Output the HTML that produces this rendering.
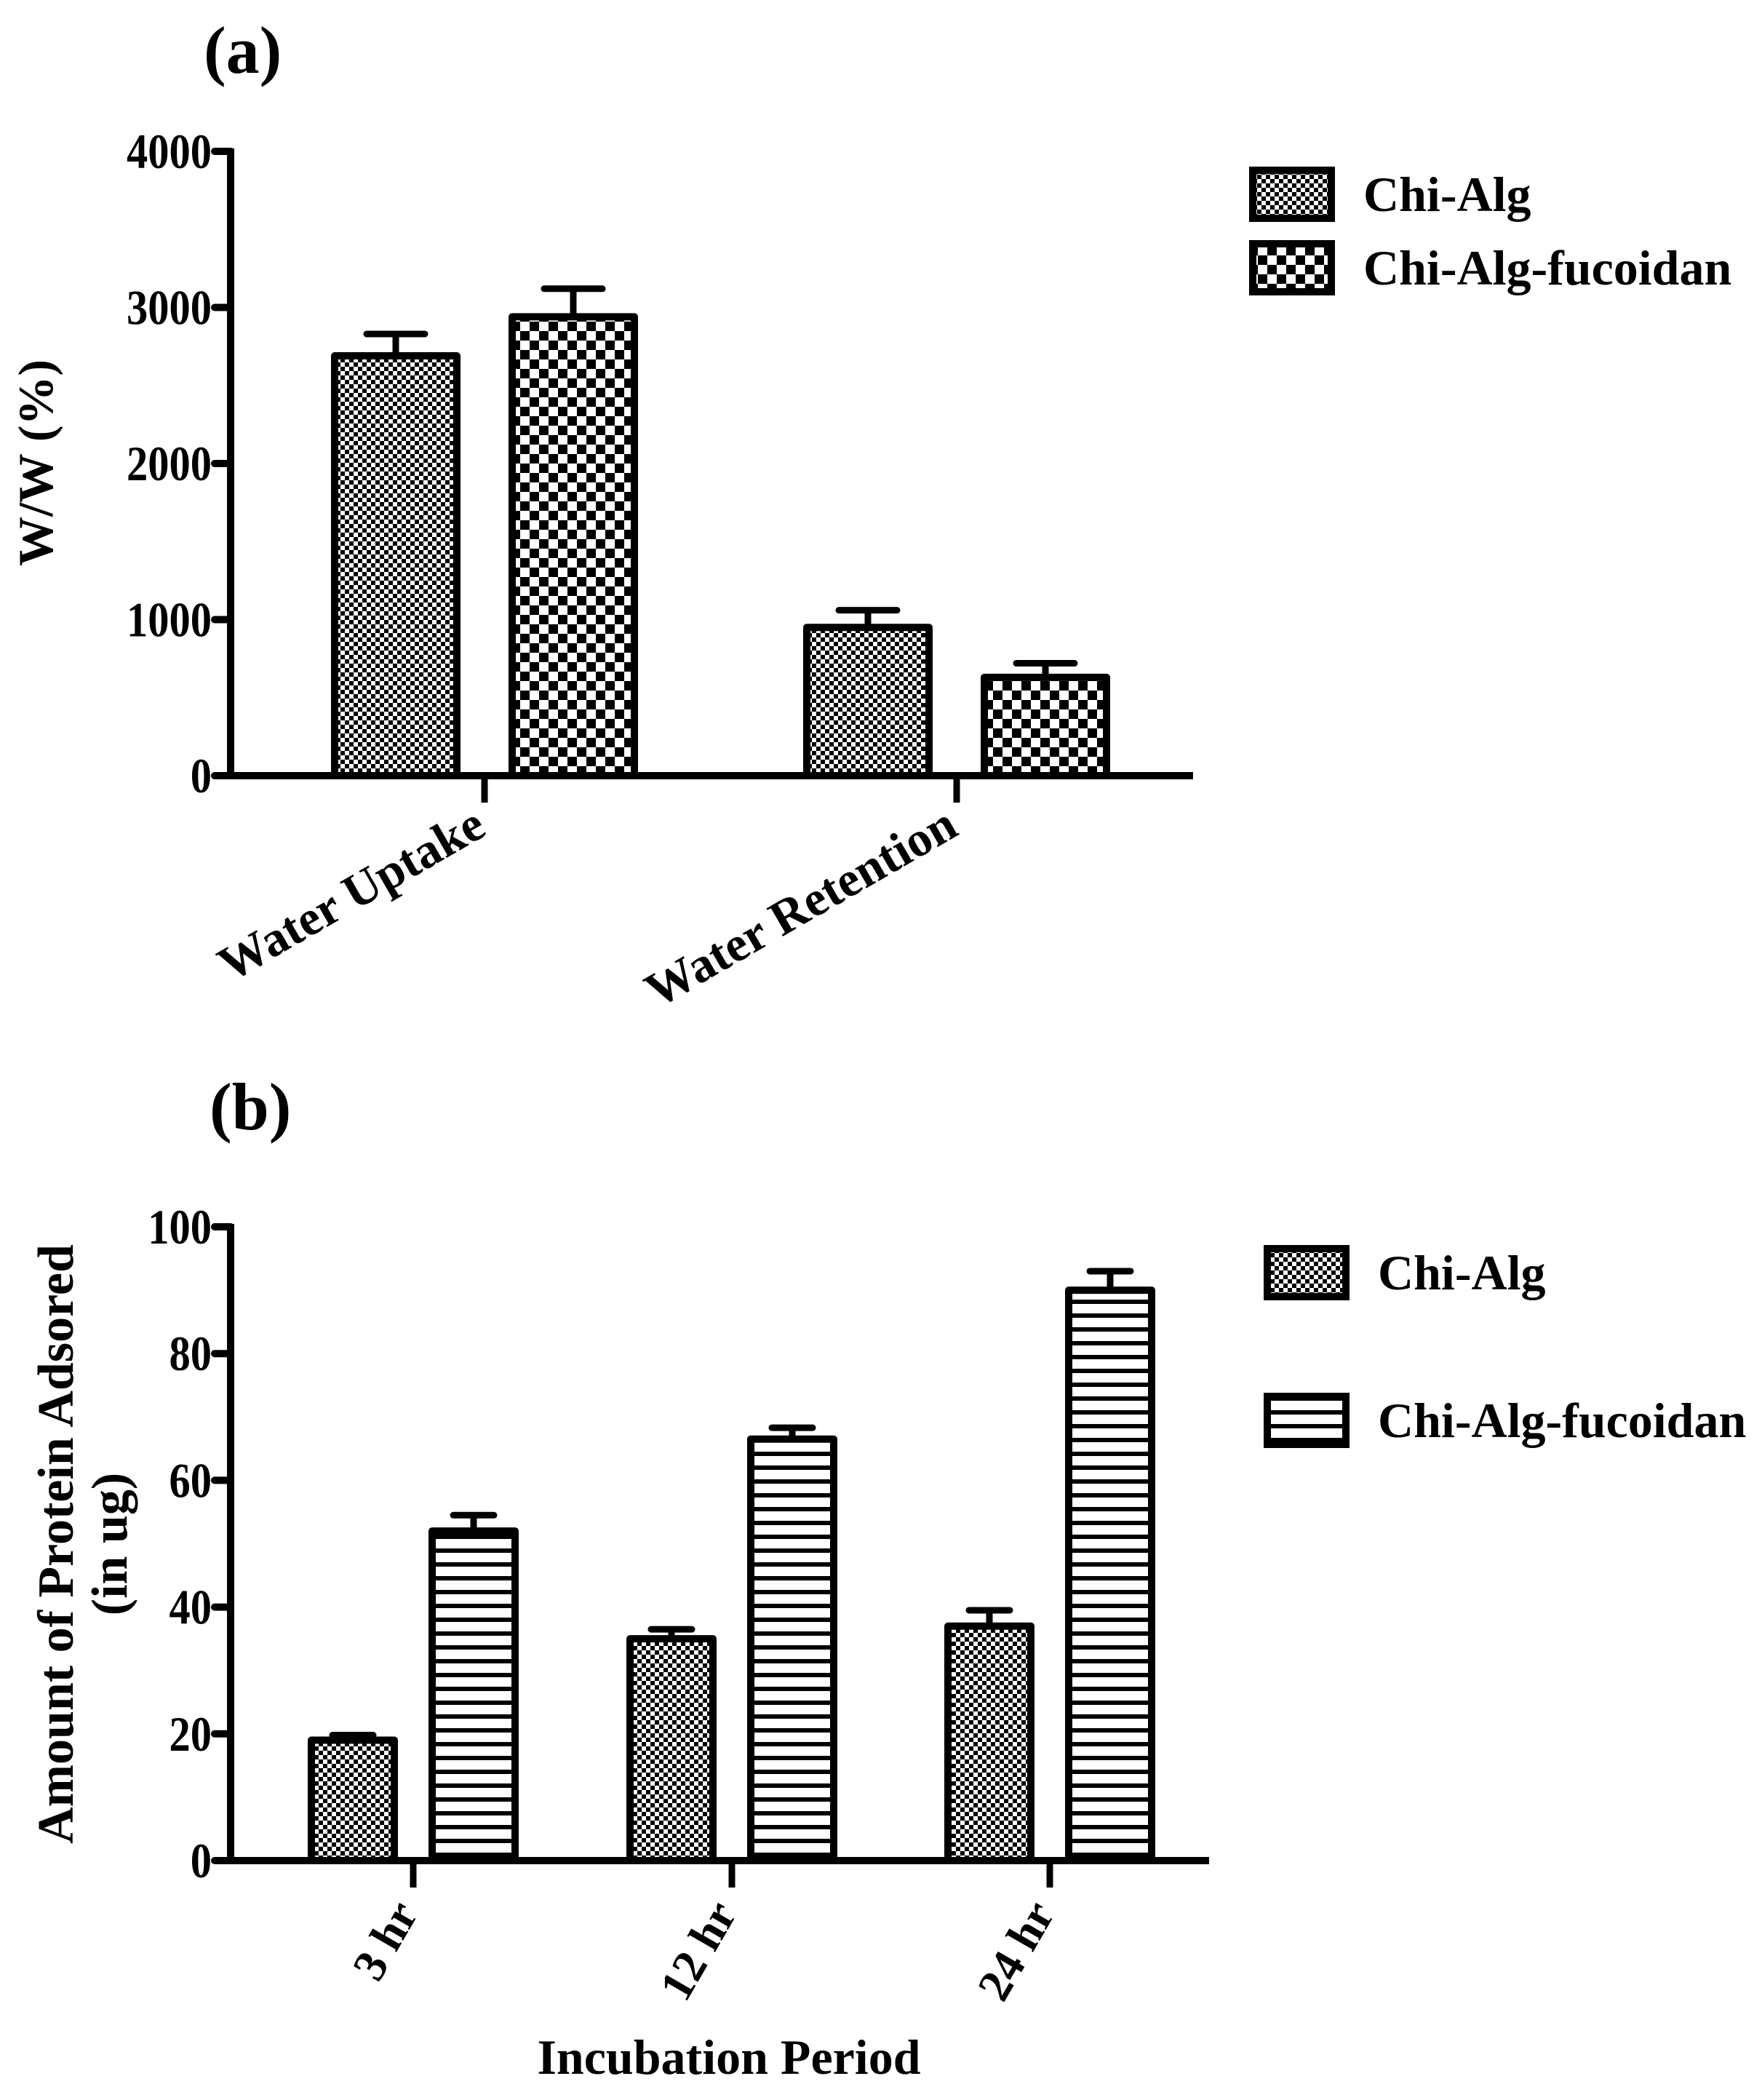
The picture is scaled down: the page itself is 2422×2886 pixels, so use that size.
<!DOCTYPE html>
<html><head><meta charset="utf-8"><style>
html,body{margin:0;padding:0;background:#fff;}
svg{display:block;}
text{font-family:"Liberation Serif",serif;font-weight:bold;fill:#000;}
</style></head><body>
<svg id="fig" width="2422" height="2886" viewBox="0 0 2422 2886" xmlns="http://www.w3.org/2000/svg">
<defs>
<pattern id="pFine" width="12" height="12" patternUnits="userSpaceOnUse"><rect width="12" height="12" fill="#fff"/><rect width="6" height="6" fill="#000"/><rect x="6" y="6" width="6" height="6" fill="#000"/></pattern>
<pattern id="pCoarse" width="26" height="26" patternUnits="userSpaceOnUse"><rect width="26" height="26" fill="#fff"/><rect width="13" height="13" fill="#000"/><rect x="13" y="13" width="13" height="13" fill="#000"/></pattern>
<pattern id="pStripe" width="20" height="19" patternUnits="userSpaceOnUse"><rect width="20" height="19" fill="#fff"/><rect y="0" width="20" height="6" fill="#000"/></pattern>
</defs>
<g id="chartA"></g>
<g id="chartB"></g>
</svg>
<script>
const aCategories = ["Water Uptake", "Water Retention"];
const aChiAlg = [2690, 950];
const aChiAlgErr = [140, 110];
const aFucoidan = [2940, 630];
const aFucoidanErr = [180, 90];
const aTicks = [0, 1000, 2000, 3000, 4000];

const bCategories = ["3 hr", "12 hr", "24 hr"];
const bChiAlg = [19, 35, 37];
const bChiAlgErr = [0.8, 1.5, 2.5];
const bFucoidan = [52, 66.5, 90];
const bFucoidanErr = [2.5, 1.8, 3];
const bTicks = [0, 20, 40, 60, 80, 100];

const NS = "http://www.w3.org/2000/svg";
function mk(parent, tag, attrs, txt){
  const e = document.createElementNS(NS, tag);
  for (const k in attrs) e.setAttribute(k, attrs[k]);
  if (txt !== undefined) e.textContent = txt;
  parent.appendChild(e);
  return e;
}

function drawChart(g, cfg){
  const yScale = v => cfg.y0 + (v - cfg.vmin) / (cfg.vmax - cfg.vmin) * (cfg.y1 - cfg.y0);
  const t = mk(g, "text", {x: cfg.titleX, y: cfg.titleY, "font-size": 92}, cfg.title);
  
  
  cfg.categories.forEach((c, i) => {
    const cx = cfg.catX[i];
    [[cfg.s1, cfg.e1, cfg.fill1, -cfg.off, 'chi-alg'], [cfg.s2, cfg.e2, cfg.fill2, cfg.off, 'chi-alg-fucoidan']].forEach(s => {
      const v = s[0][i], err = s[1][i];
      const x = cx + s[3] - cfg.bw/2;
      const yt = yScale(v), yb = yScale(0);
      const ye = yScale(v + err);
      const eb = mk(g, "line", {x1: cx + s[3], x2: cx + s[3], y1: yt, y2: ye, stroke: "#000", "stroke-width": 9});
      
      
      const cap = mk(g, "line", {x1: cx + s[3] - cfg.cap, x2: cx + s[3] + cfg.cap, y1: ye, y2: ye, stroke: "#000", "stroke-width": 9, "stroke-linecap": "round"});
      
      
      const r = mk(g, "rect", {x: x, y: yt, width: cfg.bw, height: yb - yt, fill: s[2], stroke: "#000", "stroke-width": 10, "stroke-linejoin": "round"});
      
      
    });
    const tk = mk(g, "line", {x1: cx, x2: cx, y1: cfg.y0, y2: cfg.y0 + 37, stroke: "#000", "stroke-width": 9});
    
    
    const lx = cx + cfg.labDx, ly = cfg.y0 + cfg.labDy;
    const lb = mk(g, "text", {x: lx, y: ly, "font-size": cfg.labFs, "text-anchor": "end", transform: `rotate(${cfg.labRot} ${lx} ${ly})`}, c);
    
    
  });
  const ya = mk(g, "line", {x1: cfg.ax, x2: cfg.ax, y1: cfg.y1 - 4, y2: cfg.y0 + 5, stroke: "#000", "stroke-width": 10});
  
  
  const xa = mk(g, "line", {x1: cfg.ax - 20, x2: cfg.axEnd, y1: cfg.y0, y2: cfg.y0, stroke: "#000", "stroke-width": 10});
  
  
  cfg.ticks.forEach(v => {
    const y = yScale(v);
    const tl = mk(g, "line", {x1: cfg.ax - 22, x2: cfg.ax, y1: y, y2: y, stroke: "#000", "stroke-width": 10, "stroke-linecap": "round"});
    
    
    const tx = mk(g, "text", {x: cfg.ax - 26, y: y + 23, "font-size": 68, "text-anchor": "end", transform: `translate(${cfg.ax - 26} 0) scale(0.86 1) translate(${-(cfg.ax - 26)} 0)`}, String(v));
    
    
  });
  cfg.yTitle.forEach((s, k) => {
    const x = cfg.yTitleX[k], y = cfg.yTitleY;
    const yt = mk(g, "text", {x: x, y: y, "font-size": cfg.yFs, "text-anchor": "middle", transform: `rotate(-90 ${x} ${y})`}, s);
    
    
  });
  [[cfg.fill1, 'Chi-Alg'], [cfg.fill2, 'Chi-Alg-fucoidan']].forEach((l, k) => {
    const y = cfg.legY[k];
    const lr = mk(g, "rect", {x: cfg.legX, y: y, width: 108, height: 66, fill: l[0], stroke: "#000", "stroke-width": 10});
    
    
    const lt = mk(g, "text", {x: cfg.legX + 152, y: y + 56, "font-size": 68}, l[1]);
    
    
  });
}

drawChart(document.getElementById('chartA'), {
  title: "(a)", titleX: 280, titleY: 100,
  categories: aCategories, catX: [666, 1315],
  s1: aChiAlg, e1: aChiAlgErr, s2: aFucoidan, e2: aFucoidanErr,
  fill1: "url(#pFine)", fill2: "url(#pCoarse)",
  off: 122, bw: 168, cap: 40,
  vmin: 0, vmax: 4000, y0: 1066, y1: 208,
  ax: 317, axEnd: 1640, ticks: aTicks,
  labDx: 5, labDy: 80, labFs: 68, labRot: -30,
  yTitle: ["W/W (%)"], yTitleX: [72], yTitleY: 636, yFs: 68,
  legX: 1722, legY: [234, 335]
});
drawChart(document.getElementById('chartB'), {
  title: "(b)", titleX: 288, titleY: 1552,
  categories: bCategories, catX: [568, 1006, 1443],
  s1: bChiAlg, e1: bChiAlgErr, s2: bFucoidan, e2: bFucoidanErr,
  fill1: "url(#pFine)", fill2: "url(#pStripe)",
  off: 83, bw: 114, cap: 28,
  vmin: 0, vmax: 100, y0: 2557, y1: 1686,
  ax: 317, axEnd: 1662, ticks: bTicks,
  labDx: 8, labDy: 72, labFs: 64, labRot: -60,
  yTitle: ["Amount of Protein Adsored", "(in ug)"], yTitleX: [100, 174], yTitleY: 2122, yFs: 70,
  legX: 1742, legY: [1716, 1919]
});
const xt = mk(document.getElementById('chartB'), "text", {x: 1002, y: 2850, "font-size": 68, "text-anchor": "middle"}, "Incubation Period");


</script>
</body></html>
